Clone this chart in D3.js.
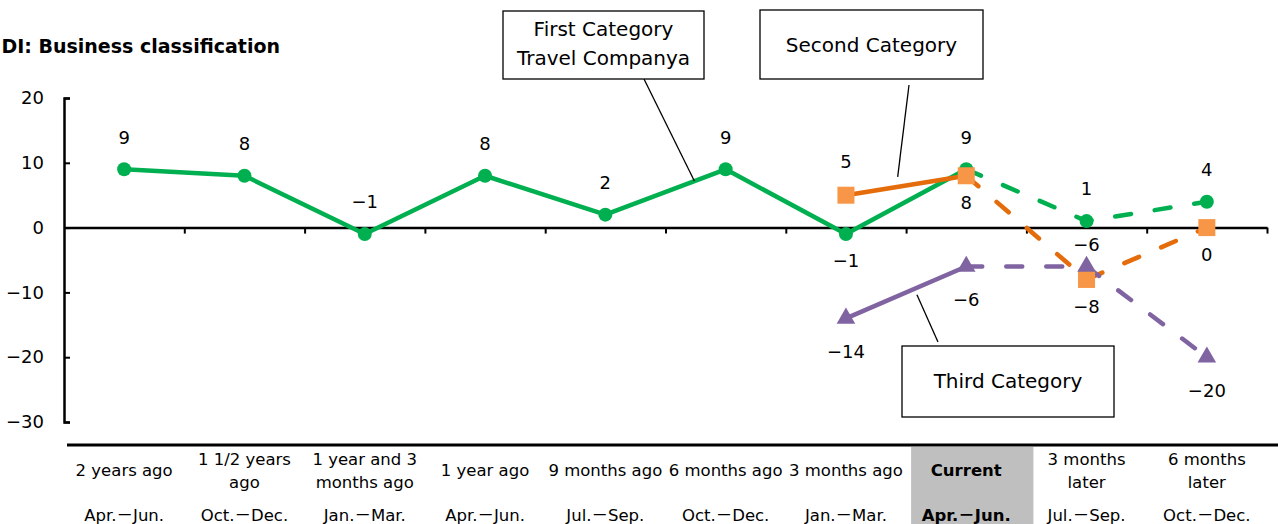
<!DOCTYPE html>
<html>
<head>
<meta charset="utf-8">
<script src="https://cdn.jsdelivr.net/npm/d3@7"></script>
<style>
  html, body { margin: 0; padding: 0; background: #fff; overflow: hidden; }
  svg { display: block; font-family: "DejaVu Sans", "Noto Sans CJK JP", sans-serif; }
</style>
</head>
<body>
<svg id="chart" width="1278" height="524"></svg>
<script>
// ---- data ----
const periods = [
  ["2 years ago"], ["1 1/2 years", "ago"], ["1 year and 3", "months ago"], ["1 year ago"],
  ["9 months ago"], ["6 months ago"], ["3 months ago"], ["Current"],
  ["3 months", "later"], ["6 months", "later"]
];
const quarters = ["Apr.－Jun.", "Oct.－Dec.", "Jan.－Mar.", "Apr.－Jun.", "Jul.－Sep.",
                  "Oct.－Dec.", "Jan.－Mar.", "Apr.－Jun.", "Jul.－Sep.", "Oct.－Dec."];
const currentIndex = 7;   // results up to here are actual, later ones are outlook
const firstCategory  = [9, 8, -1, 8, 2, 9, -1, 9, 1, 4];
const secondCategory = [null, null, null, null, null, null, 5, 8, -8, 0];
const thirdCategory  = [null, null, null, null, null, null, -14, -6, -6, -20];
const firstLabelSide  = ["up", "up", "up", "up", "up", "up", "down", "up", "up", "up"];
const secondLabelSide = [null, null, null, null, null, null, "up", "down", "down", "down"];
const thirdLabelSide  = [null, null, null, null, null, null, "down", "down", "up", "down"];
const yTicks = [-30, -20, -10, 0, 10, 20];
const titleText = "DI: Business classification";

// ---- layout ----
const svg = d3.select("#chart");
const plot = { left: 64, right: 1267, top: 98, bottom: 422 };

const x = d3.scaleBand().domain(d3.range(periods.length)).range([plot.left, plot.right]);
const cx = i => x(i) + x.bandwidth() / 2;
const y = d3.scaleLinear().domain([-30, 20]).range([plot.bottom, plot.top]);
const fmt = v => (v < 0 ? "−" + Math.abs(v) : String(v));

const series = [
  { values: firstCategory, sides: firstLabelSide, line: "#00B050", marker: "#00B050",
    shape: "circle", gapUp: 32, gapDown: 27 },
  { values: secondCategory, sides: secondLabelSide, line: "#E46C0A", marker: "#F79646",
    shape: "square", gapUp: 34, gapDown: 27 },
  { values: thirdCategory, sides: thirdLabelSide, line: "#8064A2", marker: "#8064A2",
    shape: "triangle", gapUp: 22, gapDown: 33 }
];

// title
svg.append("text")
  .attr("x", 280).attr("y", 53)
  .attr("text-anchor", "end")
  .attr("font-weight", "bold")
  .attr("font-size", 19)
  .attr("fill", "#000")
  .text(titleText);

// highlighted "current" column in the period table
svg.append("rect")
  .attr("x", x(currentIndex) + 5).attr("y", 447)
  .attr("width", x.bandwidth() + 2).attr("height", 524 - 447)
  .attr("fill", "#BFBFBF");

// y axis with inward ticks
const yAxis = svg.append("g")
  .attr("transform", `translate(${plot.left},0)`)
  .call(d3.axisLeft(y).tickValues(yTicks).tickSize(-6).tickSizeOuter(-6).tickPadding(20).tickFormat(fmt));
yAxis.select(".domain").attr("stroke", "#000").attr("stroke-width", 2.5);
yAxis.selectAll(".tick line").attr("stroke", "#000").attr("stroke-width", 2);
yAxis.selectAll(".tick text")
  .attr("font-family", "DejaVu Sans, sans-serif")
  .attr("font-size", 18).attr("fill", "#000");

// horizontal zero axis with ticks on the column boundaries
const xb = d3.scaleLinear().domain([0, periods.length]).range([plot.left, plot.right]);
const xAxis = svg.append("g")
  .attr("transform", `translate(0,${y(0)})`)
  .call(d3.axisBottom(xb).tickValues(d3.range(1, periods.length + 1)).tickSize(6).tickSizeOuter(0).tickFormat(""));
xAxis.select(".domain").attr("stroke", "#000").attr("stroke-width", 2.5);
xAxis.selectAll(".tick line").attr("stroke", "#000").attr("stroke-width", 2);

// rule above the period table
svg.append("line")
  .attr("x1", 67).attr("x2", 1278).attr("y1", 445).attr("y2", 445)
  .attr("stroke", "#000").attr("stroke-width", 3);

// period labels
const cols = svg.append("g").selectAll("g").data(periods).join("g");
cols.each(function (lines, i) {
  const g = d3.select(this);
  const bold = i === currentIndex;
  const startY = lines.length === 1 ? 470 : 459;
  lines.forEach((t, k) => {
    g.append("text")
      .attr("x", cx(i)).attr("y", startY + k * 23)
      .attr("dy", "0.35em")
      .attr("text-anchor", "middle")
      .attr("font-size", 16.5)
      .attr("font-weight", bold ? "bold" : "normal")
      .attr("fill", "#000")
      .text(t);
  });
  g.append("text")
    .attr("x", cx(i)).attr("y", 515)
    .attr("dy", "0.35em")
    .attr("text-anchor", "middle")
    .attr("font-size", 16.5)
    .attr("font-weight", bold ? "bold" : "normal")
    .attr("fill", "#000")
    .text(quarters[i]);
});

// lines: solid for actual results, dashed for the outlook
const lineGen = d3.line()
  .defined(d => d.v !== null)
  .x(d => cx(d.i)).y(d => y(d.v));

const marks = svg.append("g");
series.forEach(s => {
  const pts = s.values.map((v, i) => ({ v, i }));
  const actual = pts.filter(p => p.i <= currentIndex);
  const outlook = pts.filter(p => p.i >= currentIndex);
  marks.append("path")
    .attr("d", lineGen(actual))
    .attr("fill", "none").attr("stroke", s.line)
    .attr("stroke-width", 4.5).attr("stroke-linejoin", "round");
  marks.append("path")
    .attr("d", lineGen(outlook))
    .attr("fill", "none").attr("stroke", s.line)
    .attr("stroke-width", 4.5).attr("stroke-linecap", "round")
    .attr("stroke-dasharray", "16 24");
});

series.forEach(s => {
  const pts = s.values.map((v, i) => ({ v, i })).filter(p => p.v !== null);
  const symType = s.shape === "circle" ? d3.symbolCircle
                : s.shape === "square" ? d3.symbolSquare : d3.symbolTriangle;
  const symSize = s.shape === "circle" ? Math.PI * 49
                : s.shape === "square" ? 17 * 17 : 150;
  marks.append("g").selectAll("path").data(pts).join("path")
    .attr("transform", p => `translate(${cx(p.i)},${y(p.v)})`)
    .attr("d", d3.symbol().type(symType).size(symSize))
    .attr("fill", s.marker);
});

// value labels
series.forEach(s => {
  const pts = s.values.map((v, i) => ({ v, i, side: s.sides[i] })).filter(p => p.v !== null);
  svg.append("g").selectAll("text").data(pts).join("text")
    .attr("x", p => cx(p.i))
    .attr("y", p => y(p.v) + (p.side === "up" ? -s.gapUp : s.gapDown))
    .attr("dy", "0.35em")
    .attr("text-anchor", "middle")
    .attr("font-size", 18)
    .attr("fill", "#000")
    .text(p => fmt(p.v));
});

// callout boxes naming each series
const pointOn = (values, a, b, t) => [
  cx(a) + (cx(b) - cx(a)) * t,
  y(values[a]) + (y(values[b]) - y(values[a])) * t
];
const callouts = [
  { x: 503, y: 11, w: 201, h: 68, lines: ["First Category", "Travel Companya"], base: [36, 65],
    from: [644, 79], to: pointOn(firstCategory, 4, 5, 0.74) },
  { x: 760, y: 10, w: 223, h: 69, lines: ["Second Category"], base: [52],
    from: [909, 85], to: (p => [p[0], p[1] - 10])(pointOn(secondCategory, 6, 7, 0.43)) },
  { x: 902, y: 346, w: 212, h: 71, lines: ["Third Category"], base: [388],
    from: [938, 342], to: (p => [p[0], p[1] + 7])(pointOn(thirdCategory, 6, 7, 0.59)) }
];
const cg = svg.append("g");
callouts.forEach(c => {
  cg.append("line")
    .attr("x1", c.from[0]).attr("y1", c.from[1])
    .attr("x2", c.to[0]).attr("y2", c.to[1])
    .attr("stroke", "#000").attr("stroke-width", 1.3);
  cg.append("rect")
    .attr("x", c.x).attr("y", c.y).attr("width", c.w).attr("height", c.h)
    .attr("fill", "#fff").attr("stroke", "#000").attr("stroke-width", 1.3);
  c.lines.forEach((t, k) => {
    cg.append("text")
      .attr("x", c.x + c.w / 2).attr("y", c.base[k])
      .attr("text-anchor", "middle")
      .attr("font-size", 20)
      .attr("fill", "#000")
      .text(t);
  });
});
</script>
</body>
</html>
